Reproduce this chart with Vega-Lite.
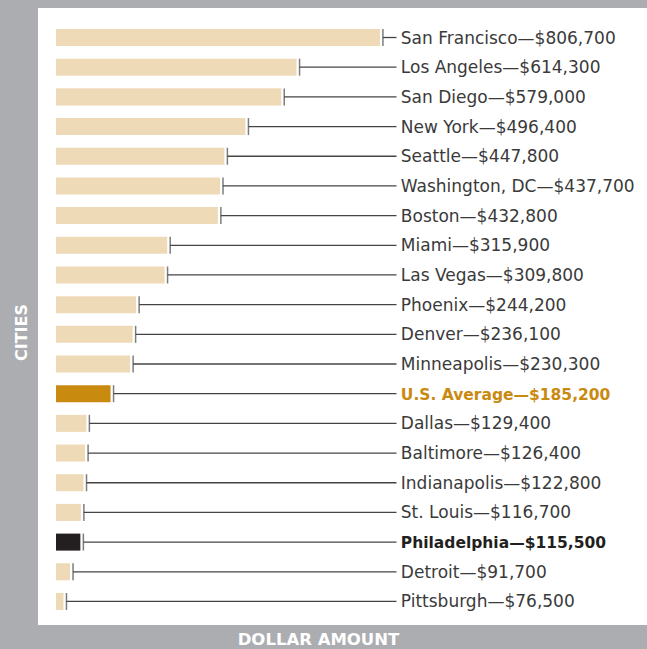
{
  "$schema": "https://vega.github.io/schema/vega-lite/v6.json",
  "autosize": {"type": "none"},
  "width": 609,
  "height": 617,
  "padding": {"left": 38, "top": 8, "right": 0, "bottom": 24},
  "background": "#abadb0",
  "config": {
    "view": {"fill": "#ffffff", "stroke": null},
    "font": "DejaVu Sans"
  },
  "data": {
    "values": [
      {"city": "San Francisco", "value": 806700, "label": "San Francisco—$806,700", "kind": "city"},
      {"city": "Los Angeles", "value": 614300, "label": "Los Angeles—$614,300", "kind": "city"},
      {"city": "San Diego", "value": 579000, "label": "San Diego—$579,000", "kind": "city"},
      {"city": "New York", "value": 496400, "label": "New York—$496,400", "kind": "city"},
      {"city": "Seattle", "value": 447800, "label": "Seattle—$447,800", "kind": "city"},
      {"city": "Washington, DC", "value": 437700, "label": "Washington, DC—$437,700", "kind": "city"},
      {"city": "Boston", "value": 432800, "label": "Boston—$432,800", "kind": "city"},
      {"city": "Miami", "value": 315900, "label": "Miami—$315,900", "kind": "city"},
      {"city": "Las Vegas", "value": 309800, "label": "Las Vegas—$309,800", "kind": "city"},
      {"city": "Phoenix", "value": 244200, "label": "Phoenix—$244,200", "kind": "city"},
      {"city": "Denver", "value": 236100, "label": "Denver—$236,100", "kind": "city"},
      {"city": "Minneapolis", "value": 230300, "label": "Minneapolis—$230,300", "kind": "city"},
      {"city": "U.S. Average", "value": 185200, "label": "U.S. Average—$185,200", "kind": "average"},
      {"city": "Dallas", "value": 129400, "label": "Dallas—$129,400", "kind": "city"},
      {"city": "Baltimore", "value": 126400, "label": "Baltimore—$126,400", "kind": "city"},
      {"city": "Indianapolis", "value": 122800, "label": "Indianapolis—$122,800", "kind": "city"},
      {"city": "St. Louis", "value": 116700, "label": "St. Louis—$116,700", "kind": "city"},
      {"city": "Philadelphia", "value": 115500, "label": "Philadelphia—$115,500", "kind": "philadelphia"},
      {"city": "Detroit", "value": 91700, "label": "Detroit—$91,700", "kind": "city"},
      {"city": "Pittsburgh", "value": 76500, "label": "Pittsburgh—$76,500", "kind": "city"}
    ]
  },
  "encoding": {
    "y": {
      "field": "city",
      "type": "nominal",
      "sort": null,
      "scale": {"paddingInner": 0.427, "paddingOuter": 0.607, "align": 0.583},
      "axis": {
        "title": "CITIES",
        "labels": false, "ticks": false, "domain": false, "grid": false,
        "titleColor": "#ffffff", "titleFontSize": 16, "titleFontWeight": "bold",
        "titleFont": "DejaVu Sans",
        "titleAngle": 270, "titleX": -17, "titleY": 324,
        "titleAlign": "center", "titleBaseline": "middle"
      }
    }
  },
  "layer": [
    {
      "mark": {"type": "rule", "color": "#444444", "strokeWidth": 1.3},
      "encoding": {
        "x": {
          "field": "value", "type": "quantitative",
          "scale": {"domain": [10845, 1416000], "zero": false, "nice": false},
          "axis": {
            "title": "DOLLAR AMOUNT",
            "labels": false, "ticks": false, "domain": false, "grid": false,
            "titleColor": "#ffffff", "titleFontSize": 16.5, "titleFontWeight": "bold",
            "titleFont": "DejaVu Sans",
            "titleX": 280, "titleY": 14, "titleAlign": "center", "titleBaseline": "middle"
          }
        },
        "x2": {"datum": 838000}
      }
    },
    {
      "mark": {"type": "bar", "xOffset": -3},
      "encoding": {
        "x": {"field": "value", "type": "quantitative"},
        "x2": {"datum": 52400},
        "color": {
          "field": "kind", "type": "nominal", "legend": null,
          "scale": {"domain": ["city", "average", "philadelphia"], "range": ["#efdab8", "#c98a10", "#231f20"]}
        }
      }
    },
    {
      "mark": {"type": "tick", "orient": "vertical", "color": "#444444", "thickness": 1.5, "size": 17},
      "encoding": {
        "x": {"field": "value", "type": "quantitative"}
      }
    },
    {
      "transform": [{"filter": "datum.kind == 'city'"}],
      "mark": {"type": "text", "align": "left", "baseline": "middle", "fontSize": 17, "color": "#3a3a3a", "dy": 1},
      "encoding": {
        "x": {"datum": 848000},
        "text": {"field": "label"}
      }
    },
    {
      "transform": [{"filter": "datum.kind != 'city'"}],
      "mark": {"type": "text", "align": "left", "baseline": "middle", "fontSize": 15.5, "fontWeight": "bold", "dy": 1},
      "encoding": {
        "x": {"datum": 848000},
        "text": {"field": "label"},
        "color": {"field": "kind", "type": "nominal", "legend": null}
      }
    }
  ]
}
